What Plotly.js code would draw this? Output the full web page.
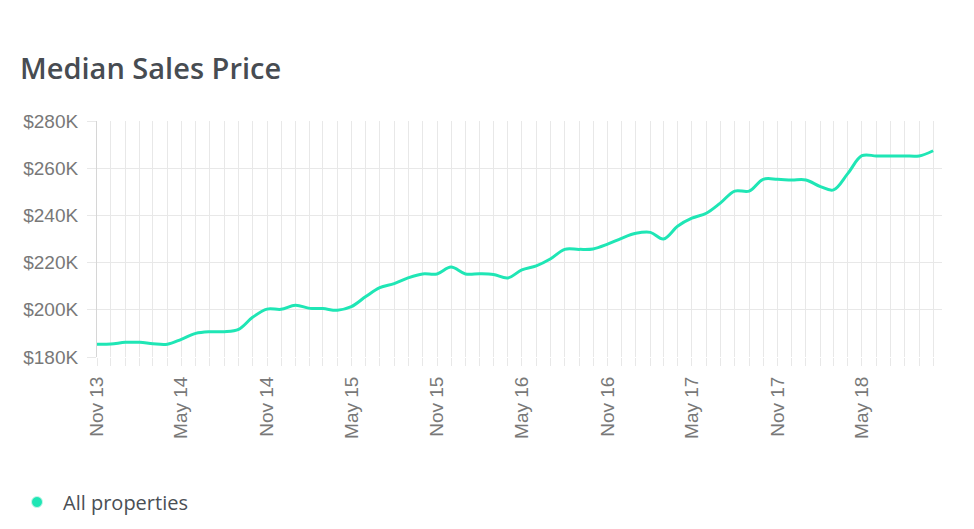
<!DOCTYPE html>
<html>
<head>
<meta charset="utf-8">
<script src="https://cdn.plot.ly/plotly-3.0.1.min.js"></script>
<style>html,body{margin:0;padding:0;background:#fff;}#chart{width:974px;height:529px;}</style>
</head>
<body>
<div id="chart"></div>
<script>
const months = [
  '2013-11-01','2013-12-01','2014-01-01','2014-02-01','2014-03-01','2014-04-01',
  '2014-05-01','2014-06-01','2014-07-01','2014-08-01','2014-09-01','2014-10-01',
  '2014-11-01','2014-12-01','2015-01-01','2015-02-01','2015-03-01','2015-04-01',
  '2015-05-01','2015-06-01','2015-07-01','2015-08-01','2015-09-01','2015-10-01',
  '2015-11-01','2015-12-01','2016-01-01','2016-02-01','2016-03-01','2016-04-01',
  '2016-05-01','2016-06-01','2016-07-01','2016-08-01','2016-09-01','2016-10-01',
  '2016-11-01','2016-12-01','2017-01-01','2017-02-01','2017-03-01','2017-04-01',
  '2017-05-01','2017-06-01','2017-07-01','2017-08-01','2017-09-01','2017-10-01',
  '2017-11-01','2017-12-01','2018-01-01','2018-02-01','2018-03-01','2018-04-01',
  '2018-05-01','2018-06-01','2018-07-01','2018-08-01','2018-09-01','2018-10-01'
];
// Median sales price, thousands of dollars
const medianPriceK = [
  185.4, 185.5, 186.2, 186.2, 185.6, 185.4,
  187.5, 190.0, 190.7, 190.7, 191.7, 196.8,
  200.3, 200.2, 201.9, 200.6, 200.5, 199.8,
  201.3, 205.6, 209.4, 211.1, 213.6, 215.2,
  215.2, 218.1, 215.2, 215.3, 215.0, 213.5,
  216.9, 218.6, 221.5, 225.6, 225.6, 225.8,
  227.8, 230.3, 232.4, 232.8, 230.0, 235.5,
  238.8, 240.9, 245.2, 250.3, 250.3, 255.3,
  255.3, 255.0, 255.0, 252.2, 250.8, 257.8,
  265.3, 265.2, 265.2, 265.2, 265.2, 267.4
];
const yTickVals = [180, 200, 220, 240, 260, 280];
const yTickText = ['$180K', '$200K', '$220K', '$240K', '$260K', '$280K'];
const seriesName = 'All properties';
const chartTitle = 'Median Sales Price';
const lineColor = '#1fe6b5';
const gridColor = '#e8e8e8';

const traces = [
  {
    x: months, y: medianPriceK, type: 'scatter', mode: 'lines',
    line: {color: lineColor, width: 3, shape: 'spline', smoothing: 1},
    showlegend: false, hoverinfo: 'x+y'
  },
  {
    x: [null], y: [null], type: 'scatter', mode: 'markers', name: seriesName,
    marker: {color: lineColor, size: 11, line: {color: '#c9f5ea', width: 1}},
    showlegend: true
  }
];

const layout = {
  width: 974, height: 529,
  paper_bgcolor: '#fff', plot_bgcolor: '#fff',
  margin: {l: 97, r: 32, t: 121, b: 172},
  title: {
    text: chartTitle, xref: 'container', yref: 'container',
    x: 20/974, xanchor: 'left', y: 1 - 69/529, yanchor: 'middle',
    font: {family: 'Open Sans, sans-serif', size: 29, color: '#474c52', weight: 600}
  },
  xaxis: {
    type: 'date', range: ['2013-11-01', '2018-10-20'],
    tick0: '2013-11-01', dtick: 'M6', tickformat: '%b %y', tickangle: -90,
    showgrid: true, gridcolor: gridColor, gridwidth: 1,
    ticks: 'outside', ticklen: 8, tickcolor: gridColor, tickwidth: 1,
    ticklabelstandoff: 3,
    minor: {dtick: 'M1', tick0: '2013-11-01', showgrid: true, gridcolor: gridColor, gridwidth: 1,
            ticks: 'outside', ticklen: 8, tickcolor: gridColor, tickwidth: 1},
    showline: false, zeroline: false,
    tickfont: {family: 'Liberation Sans, Arial, sans-serif', size: 19, color: '#787878'}
  },
  yaxis: {
    range: [180, 280], tickmode: 'array', tickvals: yTickVals, ticktext: yTickText,
    showgrid: true, gridcolor: gridColor, gridwidth: 1,
    ticks: 'outside', ticklen: 9, tickcolor: gridColor, tickwidth: 1,
    ticklabelstandoff: 5,
    showline: true, linecolor: '#d6d6d6', linewidth: 1, zeroline: false,
    tickfont: {family: 'Liberation Sans, Arial, sans-serif', size: 19, color: '#787878'}
  },
  showlegend: true,
  legend: {
    xref: 'container', yref: 'container', x: 11/974, xanchor: 'left',
    y: 1 - 502/529, yanchor: 'middle', orientation: 'h', itemwidth: 42,
    font: {family: 'Open Sans, sans-serif', size: 20, color: '#4a4f55'},
    bgcolor: 'rgba(0,0,0,0)'
  }
};

Plotly.newPlot('chart', traces, layout, {displayModeBar: false, staticPlot: true});
</script>
</body>
</html>
